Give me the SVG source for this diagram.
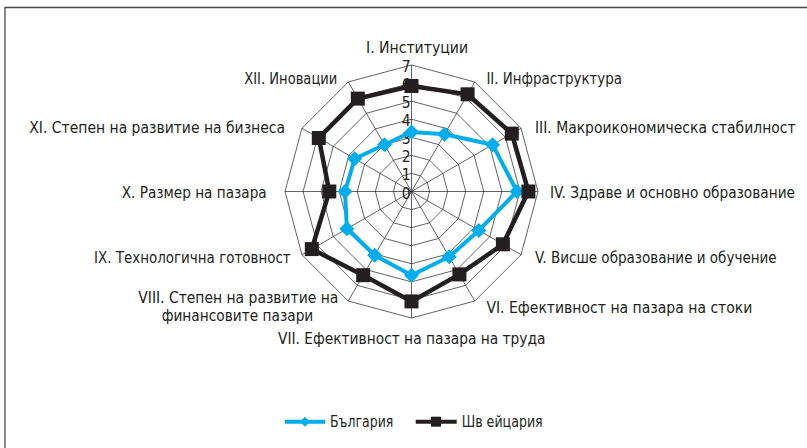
<svg xmlns="http://www.w3.org/2000/svg" xmlns:xlink="http://www.w3.org/1999/xlink" width="807" height="448" viewBox="0 0 807 448">
<style>
.frame{fill:none;stroke:#4a4a4a;stroke-width:1.3}
.grid{fill:none;stroke:#231f20;stroke-width:0.7}
.lbl{font-family:"DejaVu Sans Condensed","Liberation Sans Narrow","Liberation Sans",sans-serif;font-stretch:condensed;font-size:15.5px;fill:#231f20}
.num{font-family:"DejaVu Sans Condensed","Liberation Sans Narrow","Liberation Sans",sans-serif;font-stretch:condensed;font-size:15.5px;fill:#231f20;text-anchor:end}
.bg{fill:none;stroke:#00aeef;stroke-width:4;stroke-linejoin:round}
.ch{fill:none;stroke:#231f20;stroke-width:4.5;stroke-linejoin:miter}
.dia{fill:#00aeef}
.sq{fill:#231f20}
</style>
<defs>
<path id="diamond" d="M0,-7.5 L7.5,0 L0,7.5 L-7.5,0Z"/>
<rect id="square" x="-7" y="-7" width="14" height="14"/>
<path id="diamondS" d="M0,-5 L5,0 L0,5 L-5,0Z"/>
<rect id="squareS" x="-5" y="-5" width="10" height="10"/>
</defs>
<path class="frame" d="M5,448 L5,7.5 L807,7.5"/>
<g id="grid" transform="translate(411.5,191.5)">
<polygon class="grid" points="0,-18.07 9.04,-15.65 15.65,-9.04 18.07,0 15.65,9.04 9.04,15.65 0,18.07 -9.04,15.65 -15.65,9.04 -18.07,0 -15.65,-9.04 -9.04,-15.65"/>
<polygon class="grid" points="0,-36.14 18.07,-31.3 31.3,-18.07 36.14,0 31.3,18.07 18.07,31.3 0,36.14 -18.07,31.3 -31.3,18.07 -36.14,0 -31.3,-18.07 -18.07,-31.3"/>
<polygon class="grid" points="0,-54.21 27.11,-46.95 46.95,-27.11 54.21,0 46.95,27.11 27.11,46.95 0,54.21 -27.11,46.95 -46.95,27.11 -54.21,0 -46.95,-27.11 -27.11,-46.95"/>
<polygon class="grid" points="0,-72.28 36.14,-62.6 62.6,-36.14 72.28,0 62.6,36.14 36.14,62.6 0,72.28 -36.14,62.6 -62.6,36.14 -72.28,0 -62.6,-36.14 -36.14,-62.6"/>
<polygon class="grid" points="0,-90.35 45.18,-78.25 78.25,-45.18 90.35,0 78.25,45.18 45.18,78.25 0,90.35 -45.18,78.25 -78.25,45.18 -90.35,0 -78.25,-45.18 -45.18,-78.25"/>
<polygon class="grid" points="0,-108.42 54.21,-93.89 93.89,-54.21 108.42,0 93.89,54.21 54.21,93.89 0,108.42 -54.21,93.89 -93.89,54.21 -108.42,0 -93.89,-54.21 -54.21,-93.89"/>
<polygon class="grid" points="0,-126.49 63.25,-109.54 109.54,-63.25 126.49,0 109.54,63.25 63.25,109.54 0,126.49 -63.25,109.54 -109.54,63.25 -126.49,0 -109.54,-63.25 -63.25,-109.54"/>
<path class="grid" d="M0,0 L0,-126.49 M0,0 L63.25,-109.54 M0,0 L109.54,-63.25 M0,0 L126.49,0 M0,0 L109.54,63.25 M0,0 L63.25,109.54 M0,0 L0,126.49 M0,0 L-63.25,109.54 M0,0 L-109.54,63.25 M0,0 L-126.49,0 M0,0 L-109.54,-63.25 M0,0 L-63.25,-109.54"/>
</g>
<g id="scale-labels">
<text class="num" x="410.5" y="198.5">0</text>
<text class="num" x="410.5" y="180.4">1</text>
<text class="num" x="410.5" y="162.4">2</text>
<text class="num" x="410.5" y="144.3">3</text>
<text class="num" x="410.5" y="126.2">4</text>
<text class="num" x="410.5" y="108.2">5</text>
<text class="num" x="410.5" y="90.1">6</text>
<text class="num" x="410.5" y="72">7</text>
</g>
<g id="connectors" transform="translate(411.5,191.5)">
<polygon class="bg" points="0,-59.6 33.1,-57.3 81.1,-46.8 105.5,0 67.3,38.9 37.7,65.3 0,83.8 -36.8,63.7 -64.6,37.3 -66.5,0 -56.8,-32.8 -27,-46.8"/>
<polygon class="ch" points="0,-105.5 56.1,-97.2 100.3,-57.9 116.9,0 91.4,52.8 47.9,82.9 0,109.9 -48.3,83.7 -99.7,57.6 -82.2,0 -92.7,-53.5 -53.7,-92.9"/>
</g>
<g id="series-bulgaria" class="dia" transform="translate(411.5,191.5)">
<use xlink:href="#diamond" x="0" y="-59.6"/>
<use xlink:href="#diamond" x="33.1" y="-57.3"/>
<use xlink:href="#diamond" x="81.1" y="-46.8"/>
<use xlink:href="#diamond" x="105.5" y="0"/>
<use xlink:href="#diamond" x="67.3" y="38.9"/>
<use xlink:href="#diamond" x="37.7" y="65.3"/>
<use xlink:href="#diamond" x="0" y="83.8"/>
<use xlink:href="#diamond" x="-36.8" y="63.7"/>
<use xlink:href="#diamond" x="-64.6" y="37.3"/>
<use xlink:href="#diamond" x="-66.5" y="0"/>
<use xlink:href="#diamond" x="-56.8" y="-32.8"/>
<use xlink:href="#diamond" x="-27" y="-46.8"/>
</g>
<g id="series-switzerland" class="sq" transform="translate(411.5,191.5)">
<use xlink:href="#square" x="0" y="-105.5"/>
<use xlink:href="#square" x="56.1" y="-97.2"/>
<use xlink:href="#square" x="100.3" y="-57.9"/>
<use xlink:href="#square" x="116.9" y="0"/>
<use xlink:href="#square" x="91.4" y="52.8"/>
<use xlink:href="#square" x="47.9" y="82.9"/>
<use xlink:href="#square" x="0" y="109.9"/>
<use xlink:href="#square" x="-48.3" y="83.7"/>
<use xlink:href="#square" x="-99.7" y="57.6"/>
<use xlink:href="#square" x="-82.2" y="0"/>
<use xlink:href="#square" x="-92.7" y="-53.5"/>
<use xlink:href="#square" x="-53.7" y="-92.9"/>
</g>
<g id="axis-labels">
<text id="lbl-1" class="lbl" x="366" y="52.5" textLength="102" lengthAdjust="spacingAndGlyphs">I. Институции</text>
<text id="lbl-2" class="lbl" x="486.4" y="84" textLength="135.6" lengthAdjust="spacingAndGlyphs">II. Инфраструктура</text>
<text id="lbl-3" class="lbl" x="535" y="133" textLength="260.5" lengthAdjust="spacingAndGlyphs">III. Макроикономическа стабилност</text>
<text id="lbl-4" class="lbl" x="550" y="197.5" textLength="245" lengthAdjust="spacingAndGlyphs">IV. Здраве и основно образование</text>
<text id="lbl-5" class="lbl" x="535" y="263" textLength="241.7" lengthAdjust="spacingAndGlyphs">V. Висше образование и обучение</text>
<text id="lbl-6" class="lbl" x="486.4" y="313" textLength="266" lengthAdjust="spacingAndGlyphs">VI. Ефективност на пазара на стоки</text>
<text id="lbl-7" class="lbl" x="278" y="343.5" textLength="267.5" lengthAdjust="spacingAndGlyphs">VII. Ефективност на пазара на труда</text>
<text id="lbl-8a" class="lbl" x="138.3" y="302.5" textLength="200" lengthAdjust="spacingAndGlyphs">VIII. Степен на развитие на</text>
<text id="lbl-8b" class="lbl" x="161.7" y="320.5" textLength="151.6" lengthAdjust="spacingAndGlyphs">финансовите пазари</text>
<text id="lbl-9" class="lbl" x="94" y="263" textLength="196.7" lengthAdjust="spacingAndGlyphs">IX. Технологична готовност</text>
<text id="lbl-10" class="lbl" x="121.7" y="197.5" textLength="145" lengthAdjust="spacingAndGlyphs">X. Размер на пазара</text>
<text id="lbl-11" class="lbl" x="29.3" y="133" textLength="255.7" lengthAdjust="spacingAndGlyphs">XI. Степен на развитие на бизнеса</text>
<text id="lbl-12" class="lbl" x="244.3" y="84" textLength="93" lengthAdjust="spacingAndGlyphs">XII. Иновации</text>
</g>
<g id="legend">
<line x1="285" y1="421.7" x2="325" y2="421.7" stroke="#00aeef" stroke-width="4"/>
<use xlink:href="#diamondS" x="305" y="421.7" class="dia"/>
<text class="lbl" x="330" y="426.5" textLength="63.3" lengthAdjust="spacingAndGlyphs">България</text>
<line x1="415.7" y1="421.7" x2="456.7" y2="421.7" stroke="#231f20" stroke-width="4"/>
<use xlink:href="#squareS" x="436" y="421.7" class="sq"/>
<text class="lbl" x="461.7" y="426.5" textLength="81" lengthAdjust="spacingAndGlyphs">Шв ейцария</text>
</g>
</svg>
